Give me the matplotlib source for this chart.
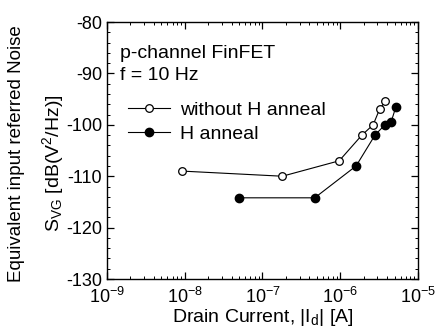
import numpy as np
import matplotlib
matplotlib.use("Agg")
import matplotlib.pyplot as plt
from matplotlib.ticker import LogLocator, MultipleLocator, NullFormatter

plt.rcParams['font.family'] = ['Liberation Sans', 'DejaVu Sans']
plt.rcParams['mathtext.fontset'] = 'custom'
plt.rcParams['mathtext.rm'] = 'Liberation Sans'
plt.rcParams['mathtext.it'] = 'Liberation Sans:italic'
plt.rcParams['mathtext.bf'] = 'Liberation Sans:bold'
plt.rcParams['axes.unicode_minus'] = False

# data
id_no_anneal = [9.2e-9, 1.8e-7, 9.7e-7, 1.9e-6, 2.65e-6, 3.2e-6, 3.8e-6]
svg_no_anneal = [-109, -110, -107, -102, -100, -97, -95.4]
id_anneal = [5.0e-8, 4.7e-7, 1.6e-6, 2.8e-6, 3.75e-6, 4.5e-6, 5.2e-6]
svg_anneal = [-114.2, -114.2, -108, -102, -100, -99.5, -96.5]

fig = plt.figure(figsize=(4.45, 3.31), dpi=100)
ax = fig.add_axes([0.2404, 0.157, 0.6989, 0.7765])

ax.plot(id_no_anneal, svg_no_anneal, '-o', color='black', lw=0.8,
        mfc='white', mec='black', ms=5.5, mew=0.9, label='without H anneal')
ax.plot(id_anneal, svg_anneal, '-o', color='black', lw=0.8,
        mfc='black', mec='black', ms=6, label='H anneal')

ax.set_xscale('log')
ax.set_xlim(1e-9, 1e-5)
ax.set_ylim(-130, -80)
ax.xaxis.set_major_locator(LogLocator(base=10, numticks=10))
ax.xaxis.set_minor_locator(LogLocator(base=10, subs=np.arange(2, 10), numticks=20))
ax.xaxis.set_minor_formatter(NullFormatter())
ax.yaxis.set_major_locator(MultipleLocator(10))
ax.yaxis.set_minor_locator(MultipleLocator(2))
ax.tick_params(which='both', direction='in', top=True, right=True, labelsize=13)
ax.tick_params(axis='x', pad=5.5)
ax.tick_params(which='major', length=5, width=0.9)
ax.tick_params(which='minor', length=2.5, width=0.7)
for s in ax.spines.values():
    s.set_linewidth(1.0)

ax.set_xlabel(r'Drain Current, |I$_\mathrm{d}$| [A]', fontsize=14, labelpad=0)
fig.text(0.036, 0.535, 'Equivalent input referred Noise', rotation=90,
         ha='center', va='center', fontsize=13.5)
fig.text(0.119, 0.508, r'S$_\mathrm{VG}$ [dB(V$^2$/Hz)]', rotation=90,
         ha='center', va='center', fontsize=14)

ax.text(0.042, 0.879, 'p-channel FinFET', transform=ax.transAxes,
        ha='left', va='center', fontsize=14)
ax.text(0.042, 0.79, 'f = 10 Hz', transform=ax.transAxes,
        ha='left', va='center', fontsize=14)

ax.legend(loc='upper left', bbox_to_anchor=(0.068, 0.69), frameon=False,
          fontsize=14, handlelength=2.15, handletextpad=0.5, borderpad=0,
          borderaxespad=0, labelspacing=0.3)

fig.savefig('out.png', dpi=100)
